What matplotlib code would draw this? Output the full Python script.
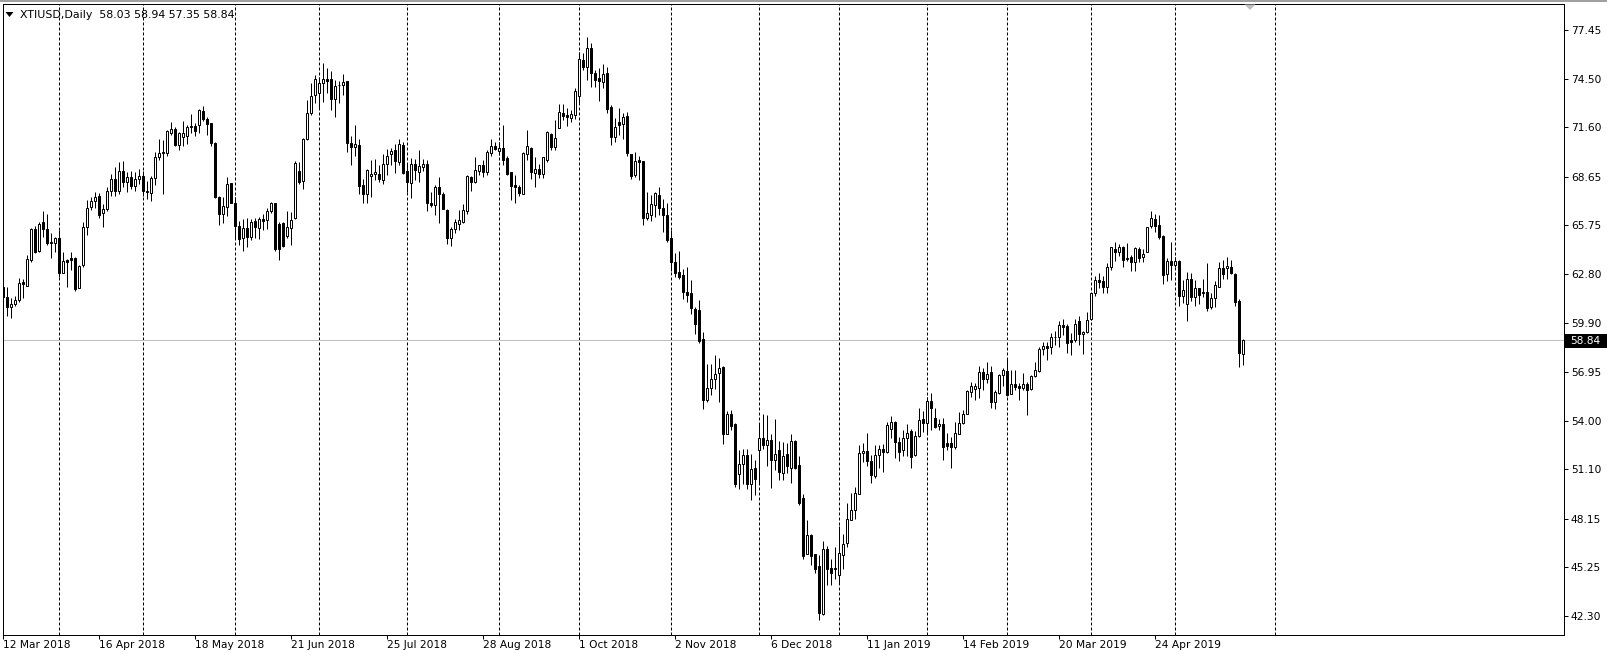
import matplotlib
matplotlib.use("Agg")
import matplotlib.pyplot as plt
from matplotlib.patches import Rectangle, Polygon
from matplotlib.transforms import blended_transform_factory

# ---------------- data (daily XTIUSD candles) ----------------
opens = [62.05, 61.45, 60.85, 60.99, 61.25, 62.35, 62.11, 63.65, 65.49, 64.21,
         65.91, 65.49, 64.75, 64.69, 64.95, 62.89, 63.65, 63.75, 63.75, 61.99,
         63.35, 65.61, 66.85, 67.21, 67.49, 66.45, 66.70, 67.80, 68.50, 67.80,
         69.00, 68.30, 68.60, 68.10, 68.50, 68.70, 67.80, 67.68, 68.54, 69.84,
         70.14, 70.08, 71.28, 71.48, 70.54, 71.04, 71.08, 71.60, 71.68, 71.74,
         72.60, 72.10, 71.84, 70.64, 67.40, 66.40, 66.80, 68.24, 67.04, 65.68,
         64.94, 65.54, 65.04, 65.98, 65.54, 66.08, 66.04, 66.60, 67.04, 65.80,
         65.88, 65.08, 65.54, 66.14, 68.98, 68.40, 70.88, 72.48, 73.53, 73.63,
         74.23, 74.47, 74.47, 73.27, 74.11, 74.13, 74.37, 70.67, 70.43, 70.57,
         68.13, 67.63, 68.67, 68.79, 68.79, 68.47, 69.39, 70.03, 70.23, 69.53,
         70.53, 68.99, 68.27, 69.43, 68.93, 69.23, 69.39, 67.07, 66.93, 68.03,
         67.59, 66.67, 64.99, 65.53, 65.79, 65.93, 66.59, 68.61, 68.33, 68.97,
         69.37, 68.93, 70.09, 70.47, 70.19, 70.39, 69.77, 68.93, 68.13, 68.03,
         67.63, 70.03, 70.37, 68.89, 69.09, 68.83, 69.63, 71.23, 70.43, 71.57,
         72.43, 72.33, 72.17, 72.33, 73.49, 75.63, 75.23, 76.37, 74.83, 74.53,
         74.33, 74.83, 72.83, 71.03, 71.93, 71.77, 72.29, 70.03, 68.73, 69.64,
         69.58, 66.14, 66.34, 66.94, 67.54, 66.74, 66.34, 64.94, 63.54, 62.94,
         62.78, 61.74, 61.70, 60.74, 60.68, 58.94, 55.24, 56.00, 56.54, 56.88,
         57.24, 53.24, 54.44, 53.80, 50.84, 51.40, 51.94, 50.20, 51.20, 52.24,
         53.00, 52.54, 52.88, 51.64, 52.28, 50.90, 52.00, 51.20, 52.80, 51.36,
         49.36, 46.06, 47.16, 46.06, 45.30, 42.46, 46.36, 45.22, 45.22, 44.80,
         46.00, 46.70, 48.10, 48.70, 49.62, 52.06, 52.22, 51.62, 50.72, 51.96,
         52.30, 52.16, 53.50, 53.92, 52.76, 52.26, 52.96, 53.42, 51.96, 53.10,
         54.10, 53.86, 55.22, 54.16, 53.70, 53.82, 52.66, 52.66, 52.42, 53.25,
         53.89, 54.45, 55.75, 55.95, 56.01, 56.95, 56.49, 56.95, 55.15, 55.69,
         56.75, 57.01, 55.65, 56.25, 56.09, 56.01, 56.25, 55.95, 56.69, 57.01,
         58.29, 58.49, 58.45, 59.01, 59.01, 59.75, 59.69, 58.85, 58.85, 60.01,
         59.19, 59.33, 60.09, 61.65, 62.45, 62.41, 62.05, 63.25, 64.29, 64.15,
         64.41, 63.79, 63.81, 63.55, 64.29, 63.81, 64.15, 65.69, 66.11, 65.75,
         65.09, 62.81, 63.61, 63.35, 63.61, 61.49, 61.01, 62.49, 61.45, 61.95,
         61.75, 61.75, 60.81, 61.35, 62.05, 63.15, 63.15, 63.25, 62.81, 61.21,
         58.03]
highs = [62.41, 62.05, 61.35, 61.49, 62.55, 62.49, 63.95, 65.55, 65.69, 65.95,
         66.59, 66.41, 65.25, 65.05, 65.45, 64.15, 63.69, 64.15, 63.85, 63.35,
         65.91, 67.25, 67.41, 67.75, 67.65, 67.01, 68.00, 68.80, 69.20, 69.50,
         69.60, 68.90, 69.00, 68.90, 69.10, 69.00, 68.40, 68.68, 70.10, 70.88,
         70.84, 71.44, 71.90, 71.60, 71.34, 72.00, 71.74, 72.40, 71.84, 72.70,
         72.90, 72.24, 71.84, 70.74, 67.48, 67.40, 68.60, 68.24, 67.40, 65.98,
         66.08, 66.14, 66.08, 66.14, 66.20, 66.40, 66.74, 67.14, 67.08, 65.90,
         65.94, 66.60, 66.54, 69.60, 69.54, 70.94, 73.24, 74.23, 74.73, 74.63,
         75.43, 75.13, 74.99, 74.43, 74.39, 74.79, 74.37, 71.07, 71.73, 70.93,
         68.53, 69.13, 69.63, 69.71, 69.33, 70.03, 70.33, 70.39, 70.63, 70.93,
         70.73, 69.43, 69.79, 69.73, 70.27, 69.73, 69.63, 67.73, 68.13, 68.63,
         67.73, 66.73, 65.63, 66.13, 66.63, 67.03, 68.73, 68.67, 69.83, 69.37,
         69.63, 70.23, 70.89, 70.73, 70.73, 71.73, 69.89, 68.93, 68.73, 68.17,
         70.13, 71.43, 70.43, 69.83, 69.43, 69.83, 71.37, 71.29, 72.03, 72.97,
         72.97, 72.77, 72.63, 73.93, 76.13, 76.03, 77.03, 76.63, 75.03, 75.13,
         75.37, 75.23, 72.93, 72.13, 72.73, 72.43, 72.49, 70.03, 70.13, 69.88,
         69.58, 67.74, 67.54, 67.74, 68.04, 67.28, 67.04, 65.44, 64.04, 64.20,
         63.14, 63.24, 62.44, 60.84, 61.28, 59.34, 57.40, 57.44, 57.94, 57.80,
         57.28, 54.60, 54.64, 53.88, 52.24, 52.34, 52.34, 52.04, 51.64, 53.80,
         54.44, 54.34, 53.24, 54.14, 52.80, 52.74, 52.70, 53.20, 52.88, 51.90,
         49.62, 48.06, 47.26, 46.06, 45.96, 46.82, 46.50, 45.76, 46.46, 47.70,
         47.26, 49.06, 49.66, 50.06, 52.56, 52.70, 53.30, 51.96, 52.56, 52.56,
         52.62, 53.96, 54.30, 54.02, 53.02, 53.46, 53.82, 53.50, 53.42, 54.76,
         54.62, 55.46, 55.66, 54.76, 54.10, 54.16, 53.26, 53.06, 53.96, 54.55,
         54.65, 55.89, 56.35, 56.29, 57.29, 57.15, 57.55, 57.29, 55.85, 56.81,
         57.15, 57.75, 57.05, 57.05, 56.29, 56.89, 56.35, 56.75, 57.55, 58.45,
         58.75, 58.75, 59.29, 59.41, 60.01, 60.09, 59.81, 59.25, 60.09, 60.29,
         59.41, 60.55, 61.69, 62.69, 62.85, 62.69, 63.45, 64.45, 64.75, 64.61,
         64.49, 64.65, 63.95, 64.41, 64.45, 64.29, 65.65, 66.61, 66.41, 66.35,
         65.15, 63.75, 64.75, 63.85, 63.65, 62.45, 62.95, 62.85, 62.45, 61.95,
         62.49, 63.45, 61.65, 62.41, 63.55, 63.65, 63.81, 63.65, 62.89, 61.29,
         58.94]
lows = [60.69, 60.29, 60.15, 60.89, 61.15, 61.35, 62.11, 63.55, 64.05, 64.15,
        65.05, 64.55, 63.75, 64.15, 62.65, 62.85, 62.05, 63.05, 61.81, 61.99,
        63.21, 65.15, 66.65, 66.75, 66.15, 65.61, 66.60, 67.50, 67.50, 67.60,
        68.00, 67.70, 67.90, 67.80, 68.20, 67.50, 67.30, 67.20, 68.14, 69.64,
        67.60, 69.88, 71.14, 70.48, 70.24, 70.48, 70.60, 71.28, 71.08, 71.28,
        72.00, 71.14, 70.48, 67.34, 65.74, 65.84, 66.28, 67.04, 64.88, 64.54,
        64.20, 64.44, 64.84, 64.94, 64.88, 65.44, 65.48, 66.48, 64.20, 63.68,
        64.44, 64.98, 64.54, 66.08, 68.20, 67.88, 70.84, 72.34, 73.07, 72.73,
        73.13, 73.63, 72.63, 72.23, 73.07, 73.53, 70.13, 69.33, 69.87, 67.63,
        67.07, 67.07, 67.43, 68.47, 68.33, 68.23, 68.73, 69.33, 68.87, 69.33,
        68.79, 67.73, 67.39, 68.43, 68.33, 68.99, 66.59, 66.83, 66.33, 65.87,
        66.70, 64.63, 64.47, 65.27, 65.43, 65.87, 66.43, 67.77, 68.27, 68.73,
        68.63, 68.77, 69.89, 70.23, 69.93, 69.37, 68.77, 67.23, 67.09, 67.49,
        67.63, 69.63, 68.49, 68.03, 68.57, 68.57, 69.53, 70.23, 70.23, 71.57,
        72.03, 71.69, 71.93, 72.09, 73.03, 75.03, 74.43, 74.03, 74.03, 73.17,
        73.93, 72.43, 70.57, 70.73, 71.13, 70.93, 69.89, 68.49, 68.63, 68.44,
        65.74, 66.04, 66.00, 66.24, 66.34, 65.34, 64.74, 63.00, 62.64, 62.54,
        61.34, 61.14, 60.44, 59.24, 58.68, 54.74, 55.14, 55.54, 55.94, 55.14,
        52.60, 53.20, 53.44, 50.04, 49.94, 50.20, 49.94, 49.28, 49.54, 50.24,
        52.34, 51.28, 50.00, 51.08, 50.48, 50.44, 50.90, 50.28, 51.14, 48.96,
        45.76, 46.02, 45.36, 44.90, 42.10, 42.36, 44.16, 44.16, 44.56, 44.26,
        45.16, 46.46, 48.06, 48.16, 49.62, 51.56, 51.30, 50.30, 50.56, 51.16,
        50.96, 52.06, 52.96, 51.76, 51.62, 51.90, 51.90, 51.16, 51.90, 53.06,
        53.36, 53.22, 53.46, 53.56, 53.46, 51.66, 52.26, 51.16, 52.30, 53.21,
        53.81, 54.41, 55.45, 55.25, 55.41, 55.85, 56.29, 54.81, 54.75, 55.61,
        56.09, 55.49, 55.61, 55.85, 55.29, 55.85, 54.35, 55.89, 56.65, 56.95,
        57.95, 57.65, 58.01, 58.55, 58.45, 59.15, 58.09, 57.95, 58.75, 58.55,
        58.01, 59.29, 60.05, 61.49, 61.95, 61.69, 61.69, 63.05, 63.61, 63.89,
        63.25, 63.61, 63.01, 63.01, 63.55, 63.55, 64.15, 65.55, 65.35, 64.89,
        62.21, 62.41, 62.45, 63.25, 60.89, 61.09, 60.01, 61.21, 60.89, 61.01,
        61.45, 60.61, 60.69, 60.81, 62.01, 62.49, 62.49, 62.81, 60.89, 57.21,
        57.35]
closes = [61.45, 60.85, 61.01, 61.25, 62.25, 62.19, 63.69, 65.49, 64.15, 65.81,
          65.49, 64.69, 64.65, 64.95, 62.85, 63.59, 63.55, 63.65, 61.89, 63.29,
          65.61, 66.75, 67.19, 67.41, 66.35, 66.69, 67.80, 68.50, 67.80, 69.00,
          68.30, 68.60, 68.10, 68.50, 68.70, 67.80, 67.70, 68.54, 69.84, 70.04,
          70.04, 71.38, 71.48, 70.54, 71.24, 71.28, 71.64, 71.68, 71.40, 72.64,
          72.08, 71.78, 70.64, 67.40, 66.40, 66.88, 68.20, 67.08, 65.68, 64.88,
          65.54, 65.00, 65.94, 65.60, 66.08, 66.00, 66.60, 67.04, 64.28, 64.28,
          64.48, 65.64, 66.04, 69.48, 68.34, 70.88, 72.48, 73.48, 74.47, 74.23,
          74.47, 74.39, 73.27, 74.07, 74.15, 74.33, 70.67, 70.43, 70.63, 68.07,
          67.63, 69.03, 68.83, 68.91, 68.53, 69.43, 69.87, 70.17, 69.59, 70.63,
          68.87, 68.33, 69.43, 69.03, 69.27, 69.43, 67.07, 66.93, 68.03, 67.59,
          66.73, 64.99, 65.53, 65.93, 66.03, 66.63, 68.67, 68.33, 69.03, 69.37,
          68.93, 70.13, 70.47, 70.29, 70.39, 69.63, 68.83, 68.09, 68.01, 67.69,
          70.07, 70.47, 68.93, 69.09, 68.83, 69.81, 71.33, 70.43, 70.97, 72.49,
          72.29, 72.23, 72.37, 73.77, 75.69, 75.23, 76.37, 74.83, 74.43, 74.37,
          74.77, 72.69, 71.03, 71.59, 71.73, 72.19, 70.09, 68.69, 69.57, 69.54,
          66.14, 66.44, 67.00, 67.64, 66.74, 66.34, 64.84, 63.54, 62.88, 62.64,
          61.74, 61.54, 60.80, 59.84, 58.80, 55.28, 56.00, 56.54, 56.84, 57.20,
          53.20, 54.44, 53.68, 50.20, 51.44, 51.94, 50.20, 51.14, 50.54, 53.00,
          52.54, 52.84, 51.64, 52.04, 50.94, 51.90, 51.30, 52.80, 51.20, 49.06,
          45.90, 47.16, 45.92, 45.16, 42.50, 46.36, 45.16, 44.90, 45.16, 46.12,
          46.66, 48.16, 48.66, 49.70, 52.06, 52.22, 51.62, 50.76, 51.96, 52.30,
          52.16, 53.76, 53.92, 52.76, 52.16, 52.96, 53.30, 51.86, 53.10, 54.06,
          53.86, 55.22, 54.76, 53.62, 53.82, 52.46, 52.50, 52.42, 53.26, 53.89,
          54.45, 55.81, 56.09, 56.09, 56.95, 56.49, 56.81, 55.15, 55.75, 56.75,
          57.05, 55.55, 56.25, 56.05, 56.01, 56.25, 55.89, 56.69, 57.05, 58.29,
          58.49, 58.35, 59.05, 59.05, 59.75, 59.61, 58.69, 58.75, 59.81, 59.19,
          59.33, 60.05, 61.65, 62.45, 62.35, 62.05, 63.21, 64.41, 64.15, 64.41,
          63.65, 63.69, 63.55, 64.35, 63.75, 64.01, 65.61, 66.15, 65.69, 65.05,
          62.75, 63.61, 63.35, 63.61, 61.49, 61.85, 62.49, 61.41, 61.95, 61.55,
          61.65, 60.75, 61.35, 62.15, 63.15, 62.81, 63.29, 62.85, 61.15, 58.05,
          58.84]

date_labels = ["12 Mar 2018", "16 Apr 2018", "18 May 2018", "21 Jun 2018",
               "25 Jul 2018", "28 Aug 2018", "1 Oct 2018", "2 Nov 2018",
               "6 Dec 2018", "11 Jan 2019", "14 Feb 2019", "20 Mar 2019",
               "24 Apr 2019"]
date_label_bars = [0, 24, 48, 72, 96, 120, 144, 168, 192, 216, 240, 264, 288]
grid_bars = [14, 35, 58, 79, 101, 124, 144, 167, 189, 209, 231, 251, 272, 293, 318]
price_ticks = [77.45, 74.50, 71.60, 68.65, 65.75, 62.80, 59.90, 56.95,
               54.00, 51.10, 48.15, 45.25, 42.30]
symbol_title = "XTIUSD,Daily  58.03 58.94 57.35 58.84"
last_price = 58.84

# ---------------- figure ----------------
W, H = 1608, 655
fig = plt.figure(figsize=(W / 100, H / 100), dpi=100)
fig.patch.set_facecolor("white")

def fx(px):
    return px / W

def fy(py_top):
    return 1 - py_top / H

ax_left, ax_right, ax_top, ax_bottom = 2.7, 1564.3, 4.0, 635.0
ax = fig.add_axes([fx(ax_left), fy(ax_bottom), fx(ax_right - ax_left),
                   (ax_bottom - ax_top) / H])
ax.set_facecolor("white")

ax.set_xlim(-0.15, 390.25)
ax.set_ylim(41.18, 78.99)

PX = 0.72  # one pixel in points

# grid (vertical dashed lines only)
ax.vlines(grid_bars, 41.18, 78.99, colors="black", linewidth=PX,
          linestyles=(0, (3, 2)), zorder=0.5)

# last price line
ax.axhline(last_price, color="#c0c0c0", linewidth=PX, zorder=0.8)

# candles
n = len(opens)
xs = list(range(n))
ax.vlines(xs, lows, highs, colors="black", linewidth=PX, zorder=2)
bottoms = [min(o, c) for o, c in zip(opens, closes)]
heights = [max(abs(c - o), 0.02) for o, c in zip(opens, closes)]
faces = ["white" if c >= o else "black" for o, c in zip(opens, closes)]
ax.bar(xs, heights, bottom=bottoms, width=0.5, color=faces,
       edgecolor="black", linewidth=PX, zorder=3)

# axes styling
for s in ax.spines.values():
    s.set_color("black")
    s.set_linewidth(PX)

ax.yaxis.tick_right()
ax.set_yticks(price_ticks)
ax.set_yticklabels([f"{v:.2f}" for v in price_ticks])
ax.tick_params(axis="y", direction="out", length=2.9, width=PX, pad=1.8,
               labelsize=7.7, colors="black")

ax.set_xticks(date_label_bars)
ax.set_xticklabels(date_labels)
for lab in ax.get_xticklabels():
    lab.set_horizontalalignment("left")
ax.tick_params(axis="x", direction="out", length=2.9, width=PX, pad=1.0,
               labelsize=7.7, colors="black")

# last price label box on the right scale
tr = blended_transform_factory(fig.transFigure, ax.transData)
fig.add_artist(Rectangle((fx(1565.5), last_price - 0.46), fx(W - 1565.5), 0.86,
                         transform=tr, facecolor="black", edgecolor="none",
                         zorder=5))
fig.text(fx(1570.5), last_price - 0.03, f"{last_price:.2f}", transform=tr,
         color="white", fontsize=7.7, va="center", ha="left", zorder=6)

# symbol header (small down-pointing triangle + text)
fig.add_artist(Polygon([(fx(5.5), fy(12.0)), (fx(13.5), fy(12.0)),
                        (fx(9.5), fy(17.0))], closed=True,
                       transform=fig.transFigure, facecolor="black",
                       edgecolor="none"))
fig.text(fx(20.5), fy(14.5), symbol_title, fontsize=7.9, color="black",
         va="center", ha="left")

# window top border
fig.add_artist(Rectangle((0, fy(2.2)), 1, 2.2 / H, transform=fig.transFigure,
                         facecolor="#a0a0a0", edgecolor="none"))

# chart shift marker (small grey triangle)
fig.add_artist(Polygon([(fx(1244.5), fy(4.5)), (fx(1255.5), fy(4.5)),
                        (fx(1250), fy(10))], closed=True,
                       transform=fig.transFigure, facecolor="#c0c0c0",
                       edgecolor="none"))

fig.savefig("out.png", dpi=100)
